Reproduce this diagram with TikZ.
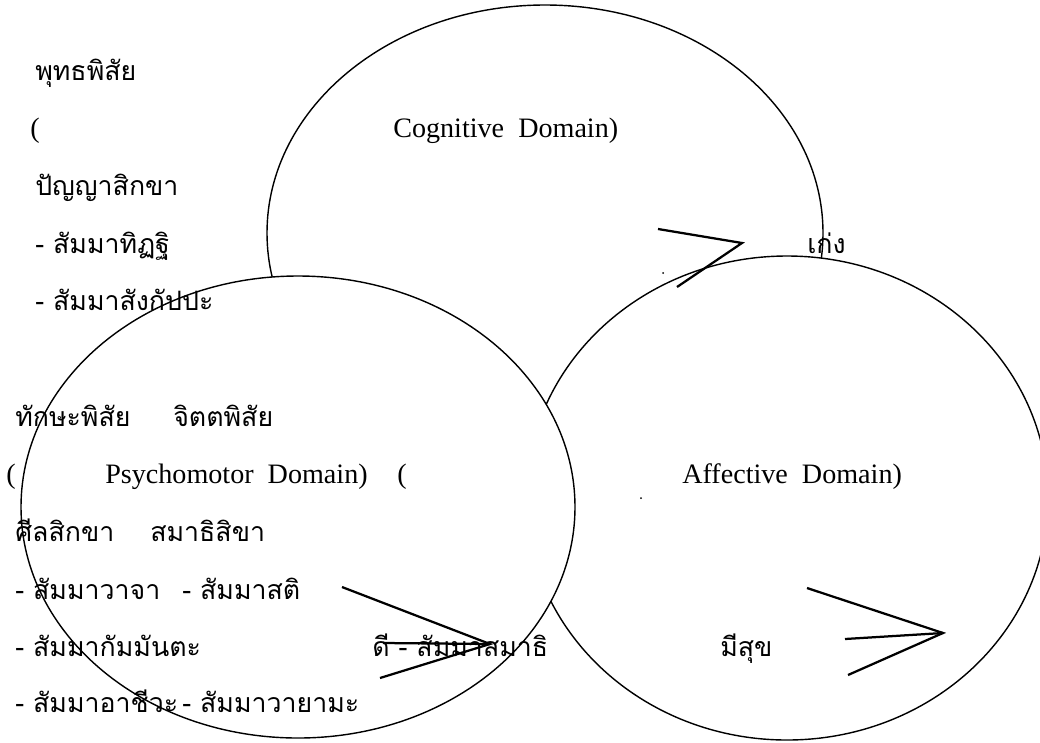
\documentclass[tikz,border=0pt]{standalone}
\usepackage{fontspec}
\setmainfont{Liberation Serif}
\newfontfamily\thaifont[Script=Thai]{Loma}
\begin{document}
\begin{tikzpicture}[x=0.25mm, y=-0.25mm,
        txt/.style={anchor=base west, inner sep=0pt, font=\fontsize{20}{24}\selectfont},
        th/.style={anchor=base west, inner sep=0pt, font=\thaifont\fontsize{19}{23}\selectfont},
        oval/.style={draw, fill=white, line width=1pt},
        chev/.style={line width=1.6pt}]
        \useasboundingbox (0,0) rectangle (1040,742);
        \clip (0,0) rectangle (1040,742);
        % Domain ovals, back to front
        \draw[oval] (545,233) ellipse [x radius=278, y radius=228];
        \draw[oval] (787,498) ellipse [x radius=261, y radius=242];
        \draw[oval] (298,507) ellipse [x radius=277, y radius=231];
        % Left column
        \node[th]  (budd)  at (35,80)   {พุทธพิสัย};
        \node[txt] (opA)   at (30,137)  {(};
        \node[txt] (cog)   at (393,137) {Cognitive\ \ Domain)};
        \node[th]  (panya) at (35,195)  {ปัญญาสิกขา};
        \node[th]  (ditthi) at (35,253) {- สัมมาทิฏฐิ};
        \node[th]  (keng)  at (807,253) {เก่ง};
        \node[th]  (sank)  at (35,310)  {- สัมมาสังกัปปะ};
        \node[th]  (thak)  at (15,426)  {ทักษะพิสัย};
        \node[th]  (chit)  at (173,426) {จิตตพิสัย};
        \node[txt] (opB)   at (6,483)   {(};
        \node[txt] (psy)   at (105,483) {Psychomotor\ \ Domain)};
        \node[txt] (opC)   at (397,483) {(};
        \node[txt] (aff)   at (682,483) {Affective\ \ Domain)};
        \node[th]  (sila)  at (15,541)  {ศีลสิกขา};
        \node[th]  (sama)  at (150,541) {สมาธิสิขา};
        \node[th]  (vaca)  at (15,599)  {- สัมมาวาจา};
        \node[th]  (sati)  at (182,599) {- สัมมาสติ};
        \node[th]  (kamm)  at (15,656)  {- สัมมากัมมันตะ};
        \node[th]  (dee)   at (372,656) {ดี - สัมมาสมาธิ};
        \node[th]  (suk)   at (720,656) {มีสุข};
        \node[th]  (ajiva) at (15,712)  {- สัมมาอาชีวะ};
        \node[th]  (vaya)  at (182,712) {- สัมมาวายามะ};
        % Chevron arrows
        \coordinate (tipA) at (742,243);
        \draw[chev] (658,229) -- (tipA) -- (677,287);
        \coordinate (tipB) at (490,644);
        \draw[chev] (342,587) -- (tipB) -- (380,678);
        \draw[chev] (383,643) -- (tipB);
        \coordinate (tipC) at (943,633);
        \draw[chev] (807,588) -- (tipC) -- (848,675);
        \draw[chev] (845,639) -- (tipC);
        % stray dots
        \fill (663,273) circle [radius=1];
        \fill (641,498) circle [radius=1];
\end{tikzpicture}
\end{document}
